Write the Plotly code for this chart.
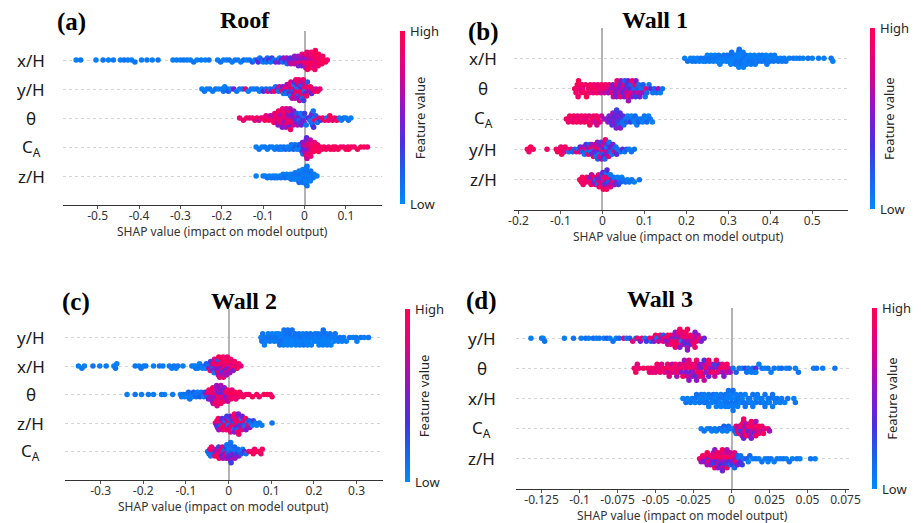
import numpy as np
import plotly.graph_objects as go

# ---------------------------------------------------------------------------
# SHAP values per feature row: (shap value, normalised feature value)
# ---------------------------------------------------------------------------

ROOF_XH = [
    (-0.552, 0.05), (-0.541, 0.08), (-0.504, 0.05), (-0.487, 0.1), (-0.474, 0.05), (-0.462, 0.08),
    (-0.445, 0.05), (-0.436, 0.1), (-0.427, 0.06), (-0.418, 0.05), (-0.41, 0.1), (-0.394, 0.05),
    (-0.381, 0.08), (-0.368, 0.05), (-0.354, 0.1), (-0.318, 0.05), (-0.309, 0.08), (-0.3, 0.05),
    (-0.292, 0.1), (-0.284, 0.06), (-0.276, 0.05), (-0.268, 0.1), (-0.26, 0.05), (-0.25, 0.08),
    (-0.24, 0.05), (-0.231, 0.1), (-0.21, 0.05), (-0.203, 0.1), (-0.196, 0.06), (-0.189, 0.05),
    (-0.182, 0.12), (-0.175, 0.05), (-0.168, 0.1), (-0.161, 0.08), (-0.154, 0.05), (-0.147, 0.15),
    (-0.14, 0.05), (-0.133, 0.1), (-0.126, 0.2), (-0.12, 0.05), (-0.114, 0.3), (-0.112, 0.4),
    (-0.108, 0.1), (-0.104, 0.2), (-0.1, 0.05), (-0.095, 0.3), (-0.092, 0.1), (-0.09, 0.15),
    (-0.086, 0.35), (-0.082, 0.1), (-0.079, 0.3),
    (-0.074, 0.1), (-0.07, 0.45),
    (-0.066, 0.2), (-0.062, 0.5), (-0.06, 0.1),
    (-0.056, 0.4), (-0.053, 0.15), (-0.051, 0.55),
    (-0.047, 0.5), (-0.045, 0.3), (-0.043, 0.6), (-0.042, 0.15),
    (-0.038, 0.45), (-0.036, 0.55), (-0.034, 0.35), (-0.033, 0.7),
    (-0.029, 0.5), (-0.028, 0.6), (-0.026, 0.4), (-0.025, 0.75), (-0.024, 0.55),
    (-0.02, 0.55), (-0.019, 0.7), (-0.018, 0.45), (-0.017, 0.8), (-0.016, 0.6), (-0.015, 0.5),
    (-0.011, 0.6), (-0.01, 0.75), (-0.009, 0.5), (-0.008, 0.85), (-0.007, 0.65), (-0.007, 0.45), (-0.006, 0.8),
    (-0.002, 0.7), (-0.001, 0.85), (0.0, 0.6), (0.001, 0.9), (0.001, 0.5), (0.002, 0.8), (0.003, 0.95), (0.003, 0.65),
    (0.006, 0.85), (0.007, 0.95), (0.008, 0.7), (0.009, 0.9), (0.009, 0.6), (0.01, 0.95), (0.011, 0.8), (0.011, 0.9), (0.012, 0.75),
    (0.015, 0.95), (0.016, 0.85), (0.017, 0.9), (0.018, 1.0), (0.018, 0.7), (0.019, 0.95), (0.02, 0.85), (0.02, 0.9), (0.021, 0.95), (0.022, 0.8),
    (0.024, 0.95), (0.025, 0.9), (0.026, 1.0), (0.027, 0.85), (0.028, 0.95), (0.029, 0.9), (0.03, 0.8), (0.031, 0.95),
    (0.033, 0.9), (0.034, 1.0), (0.036, 0.85), (0.037, 0.95), (0.039, 0.9),
    (0.042, 0.95), (0.044, 0.9), (0.047, 1.0),
    (0.051, 0.95), (0.055, 0.9),
]

ROOF_YH = [
    (-0.248, 0.05), (-0.242, 0.1), (-0.236, 0.05), (-0.229, 0.08), (-0.222, 0.05), (-0.215, 0.1),
    (-0.208, 0.05), (-0.2, 0.08), (-0.196, 0.1), (-0.193, 0.05), (-0.186, 0.1), (-0.184, 0.2),
    (-0.178, 0.05), (-0.171, 0.5), (-0.164, 0.08), (-0.157, 0.05), (-0.15, 0.1), (-0.143, 0.85),
    (-0.136, 0.05), (-0.129, 0.1), (-0.122, 0.05), (-0.115, 0.12), (-0.109, 0.05),
    (-0.103, 0.1), (-0.099, 0.4), (-0.093, 0.15), (-0.089, 0.8), (-0.084, 0.1), (-0.08, 0.5),
    (-0.076, 0.2), (-0.073, 0.9), (-0.07, 0.1),
    (-0.066, 0.6), (-0.063, 0.1), (-0.061, 0.85),
    (-0.057, 0.2), (-0.055, 0.9), (-0.053, 0.5), (-0.051, 0.1),
    (-0.048, 0.8), (-0.047, 0.3), (-0.045, 0.9), (-0.044, 0.1), (-0.042, 0.6),
    (-0.039, 0.95), (-0.038, 0.2), (-0.037, 0.7), (-0.036, 0.5), (-0.035, 0.9), (-0.034, 0.1), (-0.033, 0.8),
    (-0.03, 0.6), (-0.029, 0.9), (-0.028, 0.2), (-0.027, 0.95), (-0.026, 0.5), (-0.026, 0.1), (-0.025, 0.85), (-0.024, 0.4), (-0.023, 0.7),
    (-0.021, 0.9), (-0.02, 0.3), (-0.02, 0.8), (-0.019, 0.1), (-0.018, 0.95), (-0.017, 0.6), (-0.016, 0.2), (-0.016, 0.85), (-0.015, 0.5), (-0.014, 0.9),
    (-0.012, 0.7), (-0.011, 0.1), (-0.01, 0.95), (-0.009, 0.4), (-0.008, 0.85), (-0.008, 0.2), (-0.007, 0.9), (-0.006, 0.6), (-0.005, 0.15),
    (-0.003, 0.9), (-0.002, 0.3), (-0.001, 0.8), (0.0, 0.1), (0.001, 0.95), (0.002, 0.5), (0.003, 0.85),
    (0.005, 0.9), (0.007, 0.2), (0.009, 0.8), (0.011, 0.6),
    (0.014, 0.95), (0.017, 0.4), (0.02, 0.85),
    (0.024, 0.9), (0.028, 0.7),
    (0.032, 0.95), (0.037, 0.85),
]

ROOF_TH = [
    (-0.157, 0.9), (-0.148, 0.85), (-0.14, 0.95), (-0.133, 0.8), (-0.126, 0.9), (-0.12, 0.85),
    (-0.115, 0.95), (-0.11, 0.7), (-0.105, 0.9), (-0.1, 0.85), (-0.096, 0.95),
    (-0.093, 0.8), (-0.09, 0.9),
    (-0.086, 0.95), (-0.083, 0.7), (-0.08, 0.85),
    (-0.077, 0.9), (-0.076, 0.6), (-0.074, 0.95), (-0.072, 0.8), (-0.071, 0.9),
    (-0.068, 0.85), (-0.067, 0.95), (-0.066, 0.7), (-0.065, 0.9), (-0.064, 0.55), (-0.063, 0.95), (-0.062, 0.8),
    (-0.059, 0.9), (-0.058, 0.75), (-0.057, 0.95), (-0.056, 0.6), (-0.055, 0.85), (-0.054, 0.9), (-0.054, 0.5), (-0.053, 0.8),
    (-0.05, 0.95), (-0.049, 0.7), (-0.048, 0.85), (-0.048, 0.55), (-0.047, 0.9), (-0.046, 0.8), (-0.045, 0.95), (-0.045, 0.6), (-0.044, 0.75), (-0.043, 0.9),
    (-0.041, 0.85), (-0.04, 0.6), (-0.039, 0.95), (-0.038, 0.5), (-0.037, 0.8), (-0.036, 0.9), (-0.036, 0.45), (-0.035, 0.7), (-0.034, 0.95),
    (-0.032, 0.6), (-0.031, 0.85), (-0.03, 0.5), (-0.029, 0.9), (-0.028, 0.4), (-0.027, 0.75), (-0.026, 0.55),
    (-0.023, 0.5), (-0.022, 0.3), (-0.021, 0.7), (-0.019, 0.45), (-0.018, 0.2), (-0.017, 0.6),
    (-0.014, 0.4), (-0.013, 0.15), (-0.012, 0.5), (-0.01, 0.3), (-0.009, 0.1), (-0.008, 0.45),
    (-0.005, 0.2), (-0.004, 0.4), (-0.003, 0.1), (-0.001, 0.5), (0.0, 0.3),
    (0.004, 0.1), (0.008, 0.4),
    (0.013, 0.1), (0.014, 0.4), (0.015, 0.05), (0.016, 0.3), (0.017, 0.1), (0.018, 0.5), (0.019, 0.15),
    (0.021, 0.1), (0.022, 0.35), (0.024, 0.05), (0.025, 0.9), (0.027, 0.2),
    (0.031, 0.1), (0.035, 0.85),
    (0.039, 0.3), (0.044, 0.9), (0.049, 0.95), (0.054, 0.1), (0.058, 0.9), (0.061, 0.95), (0.063, 0.95),
    (0.068, 0.85), (0.073, 0.9), (0.078, 0.95), (0.084, 0.1), (0.089, 0.05), (0.095, 0.15),
    (0.1, 0.05), (0.106, 0.1), (0.112, 0.05),
]

ROOF_CA = [
    (-0.117, 0.05), (-0.11, 0.1), (-0.103, 0.05), (-0.096, 0.08), (-0.09, 0.05), (-0.084, 0.1),
    (-0.078, 0.05), (-0.072, 0.08), (-0.067, 0.05), (-0.062, 0.1),
    (-0.058, 0.1), (-0.055, 0.05),
    (-0.05, 0.1), (-0.046, 0.15),
    (-0.041, 0.05), (-0.037, 0.1),
    (-0.032, 0.1), (-0.03, 0.05), (-0.027, 0.15),
    (-0.023, 0.1), (-0.021, 0.2), (-0.018, 0.05),
    (-0.014, 0.1), (-0.012, 0.3), (-0.011, 0.05), (-0.009, 0.2),
    (-0.006, 0.3), (-0.005, 0.5), (-0.004, 0.15), (-0.003, 0.6), (-0.002, 0.4), (-0.001, 0.7), (0.0, 0.5),
    (0.002, 0.6), (0.003, 0.75), (0.004, 0.5), (0.005, 0.85), (0.005, 0.4), (0.006, 0.7), (0.007, 0.9), (0.008, 0.55), (0.009, 0.8), (0.01, 0.65),
    (0.011, 0.85), (0.012, 0.95), (0.014, 0.7), (0.015, 0.9), (0.016, 0.8), (0.018, 0.95),
    (0.02, 0.9), (0.022, 0.95), (0.024, 0.85), (0.026, 1.0),
    (0.029, 0.95), (0.031, 0.9), (0.034, 1.0),
    (0.038, 0.95), (0.042, 0.9),
    (0.047, 0.95), (0.052, 1.0), (0.058, 0.9), (0.063, 0.95), (0.069, 1.0), (0.071, 0.95),
    (0.075, 0.9), (0.081, 1.0), (0.087, 0.95), (0.094, 0.9), (0.1, 1.0), (0.105, 0.9),
    (0.107, 0.95), (0.113, 1.0), (0.12, 0.9), (0.128, 0.95), (0.136, 1.0), (0.144, 0.95), (0.152, 0.9),
]

ROOF_ZH = [
    (-0.117, 0.05), (-0.1, 0.08), (-0.095, 0.05), (-0.09, 0.1), (-0.085, 0.05), (-0.08, 0.08),
    (-0.076, 0.05), (-0.072, 0.1),
    (-0.069, 0.05), (-0.066, 0.08),
    (-0.06, 0.05), (-0.057, 0.1),
    (-0.052, 0.05), (-0.05, 0.08), (-0.047, 0.12),
    (-0.043, 0.05), (-0.041, 0.1), (-0.038, 0.06),
    (-0.034, 0.05), (-0.032, 0.1), (-0.03, 0.08), (-0.028, 0.05),
    (-0.025, 0.1), (-0.024, 0.05), (-0.023, 0.08), (-0.022, 0.12), (-0.021, 0.05), (-0.02, 0.1),
    (-0.016, 0.05), (-0.015, 0.1), (-0.014, 0.06), (-0.013, 0.05), (-0.013, 0.12), (-0.012, 0.08), (-0.011, 0.05), (-0.01, 0.1),
    (-0.007, 0.05), (-0.006, 0.1), (-0.006, 0.08), (-0.005, 0.05), (-0.004, 0.12), (-0.004, 0.05), (-0.003, 0.1), (-0.002, 0.06), (-0.002, 0.05), (-0.001, 0.1),
    (0.001, 0.05), (0.002, 0.08), (0.002, 0.1), (0.003, 0.05), (0.004, 0.12), (0.004, 0.06), (0.005, 0.05), (0.006, 0.1), (0.006, 0.08), (0.007, 0.05),
    (0.01, 0.1), (0.011, 0.05), (0.012, 0.08), (0.013, 0.12), (0.014, 0.05), (0.015, 0.1),
    (0.019, 0.05), (0.021, 0.1), (0.023, 0.08),
    (0.03, 0.05),
]

W1_XH = [
    (0.196, 0.05), (0.203, 0.1), (0.21, 0.05),
    (0.214, 0.08), (0.217, 0.05), (0.222, 0.1), (0.226, 0.05), (0.231, 0.05), (0.235, 0.12),
    (0.24, 0.05), (0.243, 0.1), (0.246, 0.06), (0.25, 0.05), (0.253, 0.1), (0.255, 0.08),
    (0.259, 0.05), (0.262, 0.1), (0.264, 0.06), (0.268, 0.05), (0.271, 0.12), (0.273, 0.05),
    (0.277, 0.1), (0.28, 0.05), (0.282, 0.08), (0.286, 0.05), (0.289, 0.1), (0.291, 0.06),
    (0.295, 0.05), (0.297, 0.1), (0.299, 0.08), (0.301, 0.05),
    (0.304, 0.1), (0.306, 0.05), (0.308, 0.12), (0.31, 0.06),
    (0.313, 0.05), (0.315, 0.1), (0.317, 0.08), (0.318, 0.05), (0.32, 0.1),
    (0.322, 0.05), (0.323, 0.1), (0.324, 0.06), (0.325, 0.05), (0.326, 0.12), (0.327, 0.05), (0.329, 0.1),
    (0.331, 0.05), (0.333, 0.1), (0.335, 0.08), (0.336, 0.05), (0.338, 0.1),
    (0.34, 0.05), (0.342, 0.1), (0.344, 0.06), (0.346, 0.05),
    (0.35, 0.1), (0.352, 0.05), (0.354, 0.08), (0.356, 0.05),
    (0.359, 0.1), (0.362, 0.05), (0.364, 0.08), (0.368, 0.05), (0.371, 0.1), (0.373, 0.06),
    (0.377, 0.05), (0.379, 0.1), (0.381, 0.08), (0.383, 0.05),
    (0.387, 0.1), (0.39, 0.05), (0.392, 0.08), (0.396, 0.05), (0.399, 0.1), (0.401, 0.06),
    (0.405, 0.05), (0.408, 0.1), (0.41, 0.08), (0.415, 0.05), (0.419, 0.1),
    (0.424, 0.05), (0.428, 0.08), (0.433, 0.05), (0.437, 0.1),
    (0.445, 0.05), (0.455, 0.1), (0.462, 0.05), (0.47, 0.08), (0.478, 0.05), (0.49, 0.1),
    (0.5, 0.05), (0.515, 0.08), (0.528, 0.05), (0.545, 0.1), (0.549, 0.05),
]

W1_TH = [
    (-0.066, 0.95), (-0.063, 0.9),
    (-0.06, 0.95), (-0.058, 0.9), (-0.057, 1.0), (-0.056, 0.85),
    (-0.051, 0.9), (-0.049, 0.95), (-0.047, 0.85),
    (-0.042, 0.95), (-0.04, 0.9), (-0.038, 1.0),
    (-0.033, 0.9), (-0.031, 0.85), (-0.029, 0.95),
    (-0.024, 0.95), (-0.022, 0.8), (-0.02, 0.9),
    (-0.015, 0.9), (-0.013, 0.95), (-0.011, 0.85),
    (-0.006, 0.9), (-0.004, 0.75), (-0.002, 0.95),
    (0.003, 0.85), (0.005, 0.7), (0.007, 0.9),
    (0.012, 0.8), (0.014, 0.6), (0.016, 0.9),
    (0.021, 0.55), (0.023, 0.85), (0.025, 0.5), (0.026, 0.7),
    (0.03, 0.6), (0.031, 0.45), (0.033, 0.8), (0.034, 0.5), (0.035, 0.9),
    (0.039, 0.5), (0.04, 0.7), (0.042, 0.45), (0.043, 0.85), (0.044, 0.55),
    (0.048, 0.6), (0.049, 0.4), (0.051, 0.8), (0.052, 0.5), (0.053, 0.2),
    (0.057, 0.5), (0.058, 0.7), (0.059, 0.3), (0.06, 0.9), (0.061, 0.45), (0.062, 0.6),
    (0.066, 0.4), (0.067, 0.8), (0.069, 0.2), (0.07, 0.55), (0.071, 0.9),
    (0.075, 0.15), (0.076, 0.6), (0.078, 0.85), (0.079, 0.3), (0.08, 0.5),
    (0.084, 0.2), (0.086, 0.7), (0.087, 0.1), (0.089, 0.5),
    (0.093, 0.1), (0.095, 0.6), (0.097, 0.2),
    (0.102, 0.1), (0.104, 0.85), (0.106, 0.15),
    (0.111, 0.1), (0.115, 0.4), (0.12, 0.1), (0.124, 0.2),
    (0.129, 0.1), (0.133, 0.6), (0.138, 0.05), (0.143, 0.1),
]

W1_CA = [
    (-0.086, 0.95), (-0.081, 0.9),
    (-0.078, 0.95), (-0.075, 0.85),
    (-0.07, 0.9), (-0.068, 1.0), (-0.066, 0.85),
    (-0.061, 0.95), (-0.059, 0.8), (-0.057, 0.9),
    (-0.052, 0.9), (-0.05, 0.95), (-0.048, 0.85),
    (-0.043, 0.95), (-0.041, 0.9), (-0.039, 0.8),
    (-0.034, 0.9), (-0.032, 0.85), (-0.03, 0.95),
    (-0.025, 0.95), (-0.023, 0.8), (-0.021, 0.9),
    (-0.017, 0.85), (-0.016, 0.7), (-0.014, 0.9), (-0.013, 0.75), (-0.011, 0.95),
    (-0.006, 0.8), (-0.002, 0.7), (0.004, 0.6),
    (0.011, 0.5), (0.013, 0.6), (0.016, 0.45),
    (0.019, 0.5), (0.02, 0.4), (0.022, 0.55), (0.023, 0.35), (0.025, 0.6),
    (0.027, 0.45), (0.028, 0.5), (0.03, 0.35), (0.031, 0.55), (0.032, 0.4), (0.033, 0.5), (0.034, 0.3),
    (0.036, 0.45), (0.037, 0.3), (0.039, 0.5), (0.04, 0.2), (0.042, 0.4), (0.043, 0.55),
    (0.045, 0.3), (0.047, 0.15), (0.049, 0.4), (0.051, 0.1),
    (0.055, 0.1), (0.058, 0.2), (0.06, 0.05),
    (0.064, 0.1), (0.067, 0.3), (0.069, 0.05),
    (0.073, 0.1), (0.076, 0.05), (0.078, 0.15),
    (0.082, 0.05), (0.085, 0.1), (0.087, 0.2),
    (0.092, 0.1), (0.096, 0.05),
    (0.1, 0.1), (0.103, 0.05), (0.106, 0.15),
    (0.11, 0.05), (0.114, 0.1), (0.119, 0.05),
]

W1_YH = [
    (-0.179, 0.95), (-0.175, 0.9), (-0.171, 1.0), (-0.165, 0.95), (-0.132, 0.9),
    (-0.11, 0.95), (-0.107, 0.9),
    (-0.102, 0.85), (-0.1, 1.0), (-0.099, 0.9), (-0.097, 0.95),
    (-0.093, 0.9), (-0.091, 0.8), (-0.089, 0.95),
    (-0.084, 0.85), (-0.08, 0.1),
    (-0.075, 0.9), (-0.071, 0.15),
    (-0.066, 0.2), (-0.062, 0.85),
    (-0.057, 0.1), (-0.055, 0.8), (-0.053, 0.4),
    (-0.048, 0.9), (-0.047, 0.2), (-0.045, 0.6), (-0.043, 0.1),
    (-0.039, 0.3), (-0.038, 0.85), (-0.036, 0.1), (-0.035, 0.5), (-0.034, 0.9),
    (-0.03, 0.2), (-0.029, 0.7), (-0.028, 0.1), (-0.027, 0.9), (-0.026, 0.4), (-0.025, 0.6),
    (-0.021, 0.85), (-0.02, 0.15), (-0.019, 0.5), (-0.018, 0.9), (-0.017, 0.3), (-0.016, 0.7), (-0.015, 0.1),
    (-0.012, 0.6), (-0.011, 0.2), (-0.01, 0.9), (-0.009, 0.4), (-0.008, 0.8), (-0.008, 0.1), (-0.007, 0.55), (-0.006, 0.85),
    (-0.003, 0.3), (-0.002, 0.7), (-0.001, 0.1), (0.0, 0.9), (0.001, 0.5), (0.001, 0.2), (0.002, 0.8), (0.003, 0.4),
    (0.005, 0.6), (0.006, 0.15), (0.007, 0.9), (0.008, 0.35), (0.009, 0.7), (0.01, 0.1), (0.011, 0.5),
    (0.014, 0.3), (0.015, 0.8), (0.016, 0.1), (0.018, 0.6), (0.019, 0.2), (0.02, 0.45),
    (0.023, 0.1), (0.025, 0.5), (0.027, 0.2), (0.029, 0.7),
    (0.032, 0.15), (0.034, 0.4), (0.036, 0.1),
    (0.044, 0.1), (0.048, 0.4), (0.053, 0.1), (0.058, 0.2), (0.064, 0.05), (0.069, 0.1), (0.076, 0.1),
]

W1_ZH = [
    (-0.054, 0.95), (-0.05, 0.9),
    (-0.048, 0.95), (-0.046, 0.85), (-0.044, 1.0),
    (-0.039, 0.9), (-0.037, 0.95), (-0.035, 0.8),
    (-0.03, 0.9), (-0.029, 0.5), (-0.027, 0.95), (-0.026, 0.7),
    (-0.021, 0.85), (-0.02, 0.4), (-0.019, 0.95), (-0.017, 0.6), (-0.016, 0.2),
    (-0.012, 0.9), (-0.011, 0.5), (-0.01, 0.1), (-0.009, 0.8), (-0.008, 0.95), (-0.007, 0.3), (-0.006, 0.7),
    (-0.003, 0.6), (-0.002, 0.9), (-0.001, 0.2), (0.0, 0.85), (0.001, 0.45), (0.002, 0.95), (0.003, 0.1), (0.003, 0.7),
    (0.005, 0.9), (0.006, 0.3), (0.007, 0.8), (0.008, 0.55), (0.009, 0.1), (0.01, 0.95), (0.011, 0.4),
    (0.014, 0.7), (0.015, 0.2), (0.016, 0.9), (0.018, 0.5), (0.019, 0.1), (0.02, 0.8),
    (0.023, 0.3), (0.025, 0.85), (0.027, 0.1), (0.029, 0.6),
    (0.032, 0.1), (0.034, 0.5), (0.036, 0.05), (0.038, 0.3),
    (0.041, 0.1), (0.044, 0.2), (0.046, 0.05),
    (0.05, 0.1), (0.055, 0.15), (0.06, 0.05), (0.064, 0.1),
    (0.07, 0.1), (0.076, 0.05), (0.088, 0.1),
]

W2_YH = [
    (0.076, 0.05), (0.078, 0.1), (0.08, 0.08), (0.084, 0.05), (0.086, 0.1), (0.088, 0.06),
    (0.093, 0.05), (0.095, 0.1), (0.097, 0.08), (0.102, 0.05), (0.105, 0.1), (0.107, 0.06),
    (0.111, 0.05), (0.113, 0.1), (0.115, 0.08), (0.117, 0.05),
    (0.12, 0.1), (0.122, 0.05), (0.124, 0.12), (0.126, 0.06),
    (0.129, 0.05), (0.13, 0.1), (0.132, 0.08), (0.133, 0.05), (0.135, 0.1),
    (0.138, 0.05), (0.139, 0.1), (0.141, 0.06), (0.142, 0.05), (0.144, 0.12),
    (0.147, 0.05), (0.149, 0.1), (0.151, 0.08), (0.153, 0.05),
    (0.156, 0.1), (0.158, 0.05), (0.16, 0.08), (0.162, 0.05),
    (0.165, 0.1), (0.167, 0.05), (0.169, 0.12), (0.171, 0.06),
    (0.174, 0.05), (0.176, 0.1), (0.178, 0.08), (0.18, 0.05),
    (0.183, 0.1), (0.185, 0.05), (0.187, 0.08), (0.189, 0.05),
    (0.192, 0.1), (0.194, 0.05), (0.196, 0.08),
    (0.201, 0.05), (0.203, 0.1), (0.205, 0.06), (0.207, 0.05),
    (0.21, 0.1), (0.212, 0.05), (0.214, 0.08), (0.216, 0.05),
    (0.219, 0.1), (0.221, 0.05), (0.222, 0.12), (0.224, 0.06), (0.226, 0.05),
    (0.229, 0.1), (0.231, 0.05), (0.233, 0.08), (0.235, 0.05),
    (0.238, 0.1), (0.24, 0.05), (0.242, 0.08),
    (0.247, 0.05), (0.25, 0.1), (0.252, 0.06), (0.257, 0.05), (0.261, 0.1),
    (0.266, 0.05), (0.27, 0.08), (0.276, 0.05), (0.284, 0.1), (0.292, 0.05),
    (0.299, 0.08), (0.301, 0.05), (0.31, 0.1), (0.318, 0.05), (0.328, 0.08),
]

W2_XH = [
    (-0.352, 0.05), (-0.344, 0.08), (-0.338, 0.05), (-0.318, 0.1), (-0.302, 0.05), (-0.287, 0.08),
    (-0.269, 0.05), (-0.265, 0.1), (-0.262, 0.05), (-0.219, 0.08), (-0.21, 0.05), (-0.205, 0.1),
    (-0.199, 0.05), (-0.194, 0.08), (-0.176, 0.05), (-0.162, 0.1), (-0.154, 0.05), (-0.139, 0.08),
    (-0.133, 0.05), (-0.128, 0.1), (-0.123, 0.05), (-0.119, 0.08), (-0.107, 0.05), (-0.086, 0.1),
    (-0.081, 0.05), (-0.077, 0.1), (-0.076, 0.05), (-0.072, 0.08), (-0.068, 0.05),
    (-0.065, 0.1), (-0.061, 0.05),
    (-0.056, 0.1), (-0.054, 0.05), (-0.052, 0.2),
    (-0.047, 0.1), (-0.046, 0.6), (-0.044, 0.15), (-0.043, 0.85), (-0.042, 0.3),
    (-0.039, 0.9), (-0.038, 0.2), (-0.037, 0.7), (-0.036, 0.5), (-0.035, 0.95), (-0.034, 0.1), (-0.033, 0.8),
    (-0.03, 0.85), (-0.029, 0.6), (-0.028, 0.95), (-0.027, 0.4), (-0.026, 0.75), (-0.025, 0.9), (-0.025, 0.2), (-0.024, 0.65), (-0.023, 1.0),
    (-0.021, 0.8), (-0.02, 0.95), (-0.019, 0.5), (-0.018, 0.9), (-0.017, 0.7), (-0.016, 1.0), (-0.016, 0.3), (-0.015, 0.85), (-0.014, 0.6), (-0.013, 0.95),
    (-0.012, 0.9), (-0.011, 0.55), (-0.01, 0.95), (-0.009, 0.8), (-0.008, 0.4), (-0.007, 0.9), (-0.006, 0.7), (-0.005, 1.0), (-0.005, 0.6),
    (-0.003, 0.85), (-0.002, 0.95), (-0.001, 0.5), (0.0, 0.9), (0.001, 0.75), (0.002, 1.0), (0.003, 0.6),
    (0.005, 0.9), (0.007, 0.7), (0.008, 0.95), (0.01, 0.8), (0.011, 0.5),
    (0.014, 0.9), (0.017, 0.85), (0.02, 0.95),
    (0.024, 0.9), (0.029, 0.8),
]

W2_TH = [
    (-0.238, 0.05), (-0.219, 0.1), (-0.204, 0.05), (-0.188, 0.08), (-0.176, 0.05), (-0.157, 0.1),
    (-0.15, 0.05), (-0.131, 0.08),
    (-0.113, 0.05), (-0.11, 0.1),
    (-0.106, 0.1), (-0.103, 0.05), (-0.1, 0.1),
    (-0.097, 0.05), (-0.094, 0.15), (-0.091, 0.1),
    (-0.088, 0.1), (-0.085, 0.05), (-0.082, 0.2),
    (-0.079, 0.1), (-0.076, 0.15), (-0.073, 0.05),
    (-0.07, 0.1), (-0.067, 0.2), (-0.064, 0.1),
    (-0.061, 0.15), (-0.058, 0.05), (-0.055, 0.3),
    (-0.052, 0.6), (-0.05, 0.2), (-0.049, 0.8), (-0.047, 0.5), (-0.046, 0.9),
    (-0.043, 0.75), (-0.042, 0.55), (-0.041, 0.9), (-0.04, 0.65), (-0.039, 0.85), (-0.038, 0.5), (-0.037, 0.95), (-0.036, 0.7),
    (-0.034, 0.8), (-0.033, 0.6), (-0.032, 0.9), (-0.031, 0.5), (-0.031, 0.75), (-0.03, 0.85), (-0.029, 0.65), (-0.028, 0.95), (-0.028, 0.55), (-0.027, 0.8),
    (-0.025, 0.7), (-0.024, 0.9), (-0.023, 0.45), (-0.022, 0.8), (-0.021, 0.6), (-0.02, 0.85), (-0.019, 0.5), (-0.018, 0.95), (-0.018, 0.65),
    (-0.016, 0.6), (-0.015, 0.85), (-0.014, 0.4), (-0.013, 0.75), (-0.012, 0.55), (-0.011, 0.9), (-0.01, 0.5),
    (-0.007, 0.8), (-0.006, 0.5), (-0.005, 0.9), (-0.004, 0.6), (-0.003, 0.95), (-0.002, 0.7),
    (0.002, 0.95), (0.003, 0.85), (0.005, 1.0), (0.006, 0.9), (0.008, 0.8),
    (0.011, 0.95), (0.013, 0.9), (0.015, 1.0), (0.017, 0.85),
    (0.02, 0.95), (0.023, 0.9), (0.026, 1.0),
    (0.03, 0.9), (0.034, 0.95),
    (0.041, 0.95), (0.048, 0.9), (0.056, 1.0), (0.066, 0.95), (0.072, 0.9), (0.083, 0.95),
    (0.091, 1.0), (0.098, 0.9), (0.102, 0.95),
]

W2_ZH = [
    (-0.031, 0.9), (-0.028, 0.5),
    (-0.027, 0.85), (-0.026, 0.3), (-0.024, 0.95), (-0.023, 0.6),
    (-0.019, 0.9), (-0.018, 0.2), (-0.017, 0.7), (-0.016, 0.95), (-0.015, 0.4), (-0.013, 0.85),
    (-0.01, 0.6), (-0.009, 0.95), (-0.008, 0.15), (-0.007, 0.8), (-0.006, 0.5), (-0.005, 0.9), (-0.004, 0.3),
    (-0.001, 0.85), (0.0, 0.1), (0.001, 0.95), (0.002, 0.6), (0.003, 0.2), (0.004, 0.9), (0.005, 0.45), (0.005, 0.8), (0.006, 0.15),
    (0.008, 0.9), (0.009, 0.3), (0.01, 0.95), (0.011, 0.6), (0.012, 0.1), (0.013, 0.85), (0.014, 0.5), (0.014, 0.95), (0.015, 0.2),
    (0.017, 0.8), (0.018, 0.95), (0.019, 0.4), (0.02, 0.9), (0.021, 0.15), (0.022, 0.7), (0.023, 1.0), (0.023, 0.5), (0.024, 0.85),
    (0.026, 0.9), (0.027, 0.3), (0.028, 0.95), (0.029, 0.6), (0.03, 0.1), (0.031, 0.85), (0.032, 0.45),
    (0.035, 0.9), (0.036, 0.2), (0.037, 0.8), (0.039, 0.1), (0.04, 0.95), (0.041, 0.5),
    (0.044, 0.1), (0.046, 0.85), (0.048, 0.2), (0.05, 0.6),
    (0.053, 0.1), (0.056, 0.05), (0.058, 0.3),
    (0.062, 0.1), (0.066, 0.05),
    (0.072, 0.1), (0.078, 0.05), (0.102, 0.1),
]

W2_CA = [
    (-0.049, 0.1), (-0.046, 0.15),
    (-0.044, 0.85), (-0.042, 0.1), (-0.04, 0.9),
    (-0.036, 0.9), (-0.035, 0.2), (-0.033, 0.8), (-0.032, 0.95), (-0.03, 0.5),
    (-0.027, 0.85), (-0.026, 0.6), (-0.025, 0.95), (-0.023, 0.3), (-0.022, 0.9), (-0.021, 0.7),
    (-0.018, 0.8), (-0.017, 0.95), (-0.016, 0.4), (-0.014, 0.85), (-0.013, 0.6), (-0.012, 0.2),
    (-0.009, 0.5), (-0.008, 0.15), (-0.007, 0.8), (-0.006, 0.3), (-0.005, 0.6), (-0.004, 0.1), (-0.003, 0.9),
    (-0.001, 0.2), (0.0, 0.1), (0.001, 0.5), (0.002, 0.05), (0.003, 0.4), (0.004, 0.15), (0.005, 0.6), (0.005, 0.1), (0.006, 0.3),
    (0.009, 0.2), (0.01, 0.5), (0.011, 0.1), (0.013, 0.4), (0.014, 0.15), (0.015, 0.6),
    (0.018, 0.1), (0.02, 0.3), (0.022, 0.15), (0.024, 0.5),
    (0.027, 0.1), (0.03, 0.2), (0.033, 0.05),
    (0.037, 0.4), (0.041, 0.1),
    (0.048, 0.85), (0.053, 0.9), (0.058, 0.95), (0.061, 0.9), (0.066, 0.95), (0.071, 1.0),
    (0.076, 0.9), (0.079, 0.95),
]

W3_YH = [
    (-0.132, 0.05), (-0.125, 0.1), (-0.124, 0.05), (-0.123, 0.1), (-0.11, 0.05), (-0.104, 0.1),
    (-0.099, 0.05), (-0.096, 0.1), (-0.094, 0.05), (-0.091, 0.15), (-0.089, 0.05), (-0.087, 0.1),
    (-0.084, 0.05), (-0.082, 0.2), (-0.08, 0.05), (-0.078, 0.1), (-0.076, 0.05), (-0.074, 0.15),
    (-0.071, 0.9), (-0.069, 0.1), (-0.067, 0.2),
    (-0.065, 0.85), (-0.063, 0.1),
    (-0.062, 0.9), (-0.06, 0.5),
    (-0.059, 0.95), (-0.057, 0.1),
    (-0.056, 0.3), (-0.054, 0.9),
    (-0.053, 0.15), (-0.052, 0.85), (-0.051, 0.5),
    (-0.05, 0.95), (-0.049, 0.1), (-0.048, 0.7),
    (-0.047, 0.9), (-0.046, 0.6), (-0.045, 0.95), (-0.045, 0.2),
    (-0.044, 0.85), (-0.043, 0.5), (-0.042, 0.95), (-0.042, 0.7), (-0.041, 0.9),
    (-0.041, 0.6), (-0.04, 0.95), (-0.04, 0.8), (-0.039, 0.45), (-0.039, 0.9), (-0.038, 0.7),
    (-0.038, 0.95), (-0.037, 0.55), (-0.037, 0.85), (-0.036, 0.3), (-0.036, 0.9), (-0.035, 0.65), (-0.035, 1.0),
    (-0.035, 0.8), (-0.034, 0.5), (-0.034, 0.95), (-0.033, 0.7), (-0.033, 0.1), (-0.032, 0.9), (-0.032, 0.6), (-0.032, 0.85),
    (-0.031, 0.95), (-0.031, 0.5), (-0.03, 0.8), (-0.03, 0.35), (-0.03, 0.9), (-0.029, 0.65), (-0.029, 1.0), (-0.029, 0.55),
    (-0.028, 0.85), (-0.028, 0.6), (-0.027, 0.95), (-0.027, 0.4), (-0.026, 0.9), (-0.026, 0.7), (-0.025, 0.8),
    (-0.025, 0.95), (-0.024, 0.5), (-0.024, 0.85), (-0.023, 0.65), (-0.023, 0.9),
    (-0.022, 0.6), (-0.021, 0.9), (-0.02, 0.5),
    (-0.018, 0.45),
]

W3_TH = [
    (-0.064, 0.85), (-0.063, 0.95), (-0.062, 0.8), (-0.061, 0.9), (-0.058, 0.95),
    (-0.055, 0.9), (-0.054, 0.85),
    (-0.053, 0.95), (-0.052, 0.8), (-0.051, 0.9),
    (-0.05, 0.85), (-0.049, 0.95), (-0.048, 0.8),
    (-0.047, 0.9), (-0.046, 0.75), (-0.045, 0.95),
    (-0.044, 0.85), (-0.043, 0.95), (-0.042, 0.7), (-0.042, 0.9),
    (-0.041, 0.8), (-0.04, 0.95), (-0.039, 0.85), (-0.039, 0.65),
    (-0.038, 0.9), (-0.037, 0.75), (-0.037, 0.95), (-0.036, 0.6), (-0.035, 0.85),
    (-0.035, 0.95), (-0.034, 0.7), (-0.033, 0.9), (-0.033, 0.5), (-0.032, 0.8),
    (-0.032, 0.95), (-0.031, 0.6), (-0.03, 0.85), (-0.03, 0.5), (-0.029, 0.9), (-0.029, 0.7),
    (-0.028, 0.8), (-0.028, 0.55), (-0.027, 0.95), (-0.027, 0.45), (-0.026, 0.85), (-0.026, 0.65), (-0.025, 0.9),
    (-0.025, 0.6), (-0.024, 0.85), (-0.024, 0.4), (-0.023, 0.9), (-0.023, 0.55), (-0.022, 0.75), (-0.022, 0.95), (-0.021, 0.5),
    (-0.021, 0.8), (-0.02, 0.45), (-0.02, 0.9), (-0.019, 0.6), (-0.019, 0.85), (-0.018, 0.35), (-0.018, 0.7), (-0.017, 0.95),
    (-0.017, 0.55), (-0.016, 0.8), (-0.015, 0.4), (-0.015, 0.9), (-0.014, 0.6), (-0.014, 0.75),
    (-0.013, 0.85), (-0.012, 0.5), (-0.012, 0.95), (-0.011, 0.3), (-0.011, 0.7),
    (-0.01, 0.9), (-0.009, 0.55), (-0.009, 0.8), (-0.008, 0.4),
    (-0.007, 0.95), (-0.006, 0.6), (-0.006, 0.85), (-0.005, 0.5),
    (-0.004, 0.9), (-0.003, 0.7), (-0.003, 0.95),
    (-0.002, 0.8), (-0.001, 0.6),
    (0.001, 0.1), (0.003, 0.2), (0.005, 0.1), (0.007, 0.05), (0.009, 0.3), (0.01, 0.1),
    (0.011, 0.1), (0.013, 0.05), (0.014, 0.15), (0.015, 0.1), (0.016, 0.4), (0.016, 0.05),
    (0.018, 0.05), (0.02, 0.1), (0.022, 0.05), (0.024, 0.1), (0.026, 0.05), (0.028, 0.1),
    (0.031, 0.05), (0.033, 0.15), (0.036, 0.05), (0.038, 0.1), (0.042, 0.05), (0.044, 0.1),
    (0.054, 0.05), (0.056, 0.1), (0.06, 0.05), (0.068, 0.1),
]

W3_XH = [
    (-0.032, 0.05), (-0.03, 0.1), (-0.029, 0.05), (-0.027, 0.08), (-0.026, 0.05),
    (-0.024, 0.1), (-0.024, 0.05), (-0.023, 0.12),
    (-0.021, 0.05), (-0.021, 0.1), (-0.02, 0.08),
    (-0.019, 0.05), (-0.018, 0.1), (-0.018, 0.06),
    (-0.016, 0.05), (-0.016, 0.1), (-0.015, 0.08), (-0.015, 0.05),
    (-0.013, 0.1), (-0.013, 0.05), (-0.012, 0.12),
    (-0.011, 0.05), (-0.01, 0.1), (-0.01, 0.06), (-0.01, 0.05),
    (-0.008, 0.1), (-0.008, 0.05), (-0.007, 0.08), (-0.007, 0.05),
    (-0.005, 0.1), (-0.005, 0.05), (-0.004, 0.12), (-0.004, 0.06),
    (-0.003, 0.05), (-0.003, 0.1), (-0.002, 0.08), (-0.002, 0.05), (-0.002, 0.1),
    (0.0, 0.05), (0.0, 0.1), (0.0, 0.06), (0.001, 0.05), (0.001, 0.12), (0.001, 0.08),
    (0.003, 0.05), (0.003, 0.1), (0.003, 0.06), (0.004, 0.05),
    (0.005, 0.1), (0.006, 0.05), (0.006, 0.08), (0.007, 0.05),
    (0.008, 0.1), (0.009, 0.05), (0.009, 0.12),
    (0.011, 0.05), (0.011, 0.1), (0.012, 0.08),
    (0.013, 0.05), (0.014, 0.1), (0.014, 0.06),
    (0.016, 0.05), (0.016, 0.1), (0.017, 0.08),
    (0.019, 0.05), (0.019, 0.1), (0.02, 0.06),
    (0.021, 0.05), (0.022, 0.1), (0.022, 0.08),
    (0.024, 0.05), (0.024, 0.1), (0.025, 0.12), (0.025, 0.05),
    (0.027, 0.1), (0.027, 0.05), (0.028, 0.08),
    (0.029, 0.05), (0.03, 0.1), (0.032, 0.05), (0.033, 0.08),
    (0.035, 0.05), (0.037, 0.1), (0.041, 0.05), (0.042, 0.08),
]

W3_CA = [
    (-0.02, 0.05), (-0.018, 0.1), (-0.016, 0.05), (-0.014, 0.1),
    (-0.013, 0.05), (-0.011, 0.1),
    (-0.01, 0.05), (-0.008, 0.15),
    (-0.007, 0.1), (-0.006, 0.05), (-0.005, 0.2),
    (-0.004, 0.1), (-0.003, 0.05), (-0.002, 0.15),
    (-0.001, 0.1), (0.001, 0.05),
    (0.002, 0.2), (0.003, 0.85), (0.003, 0.1), (0.004, 0.6),
    (0.004, 0.9), (0.005, 0.5), (0.005, 0.95), (0.006, 0.7), (0.006, 0.3), (0.006, 0.85), (0.007, 0.55),
    (0.007, 0.95), (0.007, 0.6), (0.008, 0.8), (0.008, 0.45), (0.008, 0.9), (0.009, 0.7), (0.009, 1.0), (0.009, 0.5), (0.01, 0.85),
    (0.01, 0.6), (0.01, 0.95), (0.011, 0.75), (0.011, 0.4), (0.011, 0.9), (0.012, 0.55), (0.012, 0.85), (0.012, 0.65),
    (0.013, 0.95), (0.013, 0.5), (0.014, 0.8), (0.014, 0.7), (0.014, 0.9), (0.015, 0.45), (0.015, 0.85),
    (0.016, 0.95), (0.016, 0.6), (0.017, 0.9), (0.017, 0.75), (0.018, 1.0),
    (0.018, 0.85), (0.019, 0.95), (0.02, 0.7), (0.02, 0.9),
    (0.021, 0.95), (0.022, 0.8),
    (0.024, 0.9), (0.025, 0.6),
]

W3_ZH = [
    (-0.021, 0.9), (-0.02, 0.6),
    (-0.019, 0.95), (-0.018, 0.8), (-0.018, 0.5),
    (-0.017, 0.9), (-0.016, 0.6), (-0.016, 0.95), (-0.015, 0.4), (-0.015, 0.85),
    (-0.014, 0.9), (-0.014, 0.65), (-0.013, 0.95), (-0.013, 0.5), (-0.012, 0.85), (-0.012, 0.3), (-0.012, 0.75),
    (-0.011, 0.95), (-0.011, 0.55), (-0.01, 0.85), (-0.01, 0.4), (-0.01, 0.9), (-0.009, 0.7), (-0.009, 1.0), (-0.009, 0.5),
    (-0.008, 0.9), (-0.008, 0.6), (-0.007, 0.95), (-0.007, 0.35), (-0.007, 0.8), (-0.006, 0.65), (-0.006, 0.95), (-0.006, 0.45),
    (-0.005, 0.85), (-0.005, 0.55), (-0.004, 0.95), (-0.004, 0.3), (-0.004, 0.75), (-0.003, 0.9), (-0.003, 0.6),
    (-0.002, 0.95), (-0.002, 0.4), (-0.001, 0.85), (-0.001, 0.2), (-0.001, 0.7), (0.0, 0.9), (0.0, 0.5),
    (0.001, 0.95), (0.001, 0.3), (0.002, 0.8), (0.002, 0.15), (0.003, 0.6),
    (0.003, 0.9), (0.004, 0.2), (0.004, 0.5), (0.005, 0.1),
    (0.006, 0.4), (0.006, 0.1), (0.007, 0.3),
    (0.008, 0.1), (0.01, 0.2), (0.011, 0.05), (0.012, 0.15),
    (0.014, 0.05), (0.016, 0.1), (0.018, 0.05), (0.02, 0.1), (0.022, 0.05), (0.024, 0.1), (0.024, 0.05),
    (0.026, 0.1), (0.028, 0.05), (0.03, 0.1), (0.032, 0.05), (0.034, 0.1), (0.036, 0.05),
    (0.038, 0.1), (0.04, 0.05), (0.043, 0.1), (0.045, 0.05), (0.052, 0.1), (0.055, 0.05),
]

# Feature rows of each panel, listed from top to bottom
ROOF_FEATURES = ["x/H", "y/H", "θ", "C<sub>A</sub>", "z/H"]
WALL1_FEATURES = ["x/H", "θ", "C<sub>A</sub>", "y/H", "z/H"]
WALL2_FEATURES = ["y/H", "x/H", "θ", "z/H", "C<sub>A</sub>"]
WALL3_FEATURES = ["y/H", "θ", "x/H", "C<sub>A</sub>", "z/H"]

ROOF_ROWS = [ROOF_XH, ROOF_YH, ROOF_TH, ROOF_CA, ROOF_ZH]
WALL1_ROWS = [W1_XH, W1_TH, W1_CA, W1_YH, W1_ZH]
WALL2_ROWS = [W2_YH, W2_XH, W2_TH, W2_ZH, W2_CA]
WALL3_ROWS = [W3_YH, W3_TH, W3_XH, W3_CA, W3_ZH]

PANEL_TAGS = ["(a)", "(b)", "(c)", "(d)"]
PANEL_TITLES = ["Roof", "Wall 1", "Wall 2", "Wall 3"]

ROOF_TICKS = [-0.5, -0.4, -0.3, -0.2, -0.1, 0, 0.1]
ROOF_TICK_TEXT = ["-0.5", "-0.4", "-0.3", "-0.2", "-0.1", "0", "0.1"]
WALL1_TICKS = [-0.2, -0.1, 0, 0.1, 0.2, 0.3, 0.4, 0.5]
WALL1_TICK_TEXT = ["-0.2", "-0.1", "0", "0.1", "0.2", "0.3", "0.4", "0.5"]
WALL2_TICKS = [-0.3, -0.2, -0.1, 0, 0.1, 0.2, 0.3]
WALL2_TICK_TEXT = ["-0.3", "-0.2", "-0.1", "0", "0.1", "0.2", "0.3"]
WALL3_TICKS = [-0.125, -0.1, -0.075, -0.05, -0.025, 0, 0.025, 0.05, 0.075]
WALL3_TICK_TEXT = ["-0.125", "-0.1", "-0.075", "-0.05", "-0.025", "0", "0.025", "0.05", "0.075"]

X_TITLE = "SHAP value (impact on model output)"

# SHAP-style blue -> purple -> red colormap
RED_BLUE = [
    [0.0, "rgb(0,138,250)"], [0.2, "rgb(30,92,236)"], [0.35, "rgb(72,48,226)"],
    [0.5, "rgb(125,28,210)"], [0.65, "rgb(180,12,172)"], [0.8, "rgb(226,2,126)"],
    [1.0, "rgb(255,0,82)"],
]

# ---------------------------------------------------------------------------
# Page geometry (pixels on a 921 x 523 page)
# ---------------------------------------------------------------------------
W, H = 921, 523
SANS = "Noto Sans"
SERIF = "Liberation Serif"
TXT = "#262626"


def fx(p):
    return p / W


def fy(p):
    return 1 - p / H


GEOM = [
    dict(xd=(58, 384), yd=(205, 31), xr=(-0.5841, 0.1884), ppu=422, cb=(402, 31, 204),
         lab_x=26, tag=(50, 22), title=(244, 20), xtitle=(221, 231),
         ticks=ROOF_TICKS, ticktext=ROOF_TICK_TEXT, rows=ROOF_ROWS, feats=ROOF_FEATURES),
    dict(xd=(518, 859), yd=(210, 28), xr=(-0.2110, 0.5857), ppu=428, cb=(881, 28, 209),
         lab_x=487, tag=(469, 32), title=(662, 20), xtitle=(686, 237),
         ticks=WALL1_TICKS, ticktext=WALL1_TICK_TEXT, rows=WALL1_ROWS, feats=WALL1_FEATURES),
    dict(xd=(60, 385), yd=(480, 309), xr=(-0.3839, 0.3632), ppu=435, cb=(407, 309, 482),
         lab_x=25, tag=(55, 302), title=(243, 301), xtitle=(222, 506),
         ticks=WALL2_TICKS, ticktext=WALL2_TICK_TEXT, rows=WALL2_ROWS, feats=WALL2_FEATURES),
    dict(xd=(520, 860), yd=(489, 308), xr=(-0.14194, 0.07742), ppu=1550, cb=(883, 308, 489),
         lab_x=485, tag=(467, 301), title=(667, 299), xtitle=(690, 515),
         ticks=WALL3_TICKS, ticktext=WALL3_TICK_TEXT, rows=WALL3_ROWS, feats=WALL3_FEATURES),
]


def swarm_offsets(vals, bin_w, row_height=0.44):
    """Beeswarm layout: stack points that fall in the same x-bin, alternating up/down."""
    vals = np.asarray(vals, dtype=float)
    q = np.floor((vals - vals.min()) / bin_w).astype(int)
    order = np.argsort(q, kind="stable")
    ys = np.zeros(len(vals))
    layer, last = 0, None
    for i in order:
        if q[i] != last:
            layer, last = 0, q[i]
        ys[i] = np.ceil(layer / 2) * (-1 if layer % 2 else 1)
        layer += 1
    ys *= 0.9 * (row_height / (ys.max() + 1))
    return ys


fig = go.Figure()
layout = dict(
    width=W, height=H, margin=dict(l=0, r=0, t=0, b=0),
    paper_bgcolor="white", plot_bgcolor="white", showlegend=False,
    font=dict(family=SANS, color=TXT),
)
annotations = []

for k, g in enumerate(GEOM):
    n = k + 1
    xa, ya = ("x" if n == 1 else f"x{n}"), ("y" if n == 1 else f"y{n}")
    ca = "coloraxis" if n == 1 else f"coloraxis{n}"
    bin_w = 4.0 / g["ppu"]
    nrows = len(g["rows"])

    for pos, row in enumerate(g["rows"]):
        shap_vals = [p[0] for p in row]
        feat_vals = [p[1] for p in row]
        yrow = nrows - 1 - pos
        offs = swarm_offsets(shap_vals, bin_w)
        fig.add_trace(go.Scatter(
            x=shap_vals, y=yrow + offs, mode="markers", xaxis=xa, yaxis=ya,
            marker=dict(size=5.5, color=feat_vals, coloraxis=ca, line=dict(width=0)),
            hoverinfo="skip",
        ))
        annotations.append(dict(
            text=g["feats"][pos], x=fx(g["lab_x"]), xref="paper", y=yrow, yref=ya,
            xanchor="center", yanchor="middle", showarrow=False,
            font=dict(family=SANS, size=17, color="#1a1a1a"),
        ))

    layout["xaxis" if n == 1 else f"xaxis{n}"] = dict(
        domain=[fx(g["xd"][0]), fx(g["xd"][1])], range=list(g["xr"]), anchor=ya,
        tickvals=g["ticks"], ticktext=g["ticktext"], showgrid=False,
        showline=True, linecolor="#333333", linewidth=1,
        ticks="outside", ticklen=3, tickcolor="#555555", tickwidth=1,
        ticklabelstandoff=-3,
        tickfont=dict(family=SANS, size=12, color="#333333"),
        zeroline=True, zerolinecolor="#b3b3b3", zerolinewidth=1.6, fixedrange=True,
    )
    layout["yaxis" if n == 1 else f"yaxis{n}"] = dict(
        domain=[fy(g["yd"][0]), fy(g["yd"][1])], range=[-1, nrows], anchor=xa,
        tickvals=list(range(nrows)), showticklabels=False, ticks="",
        showgrid=True, gridcolor="#d4d4d4", griddash="dot", gridwidth=1,
        zeroline=False, showline=False, fixedrange=True,
    )

    cbx, cbt, cbb = g["cb"]
    layout[ca] = dict(
        colorscale=RED_BLUE, cmin=0, cmax=1,
        colorbar=dict(
            x=fx(cbx), xanchor="left", xref="paper", xpad=0,
            y=fy((cbt + cbb) / 2), yanchor="middle", yref="paper", ypad=0,
            len=cbb - cbt, lenmode="pixels", thickness=5, thicknessmode="pixels",
            outlinewidth=0, showticklabels=False, ticks="",
        ),
    )

    # Colour bar labels, panel tag and title, x-axis title
    annotations += [
        dict(text="High", x=fx(cbx + 8), y=fy(cbt), xanchor="left", yanchor="middle",
             font=dict(family=SANS, size=13, color=TXT)),
        dict(text="Low", x=fx(cbx + 8), y=fy(cbb), xanchor="left", yanchor="middle",
             font=dict(family=SANS, size=13, color=TXT)),
        dict(text="Feature value", x=fx(cbx + 20), y=fy((cbt + cbb) / 2), textangle=-90,
             xanchor="center", yanchor="middle", font=dict(family=SANS, size=13, color=TXT)),
        dict(text=f"<b>{PANEL_TAGS[k]}</b>", x=fx(g["tag"][0]), y=fy(g["tag"][1]),
             xanchor="left", yanchor="middle", font=dict(family=SERIF, size=25, color="black")),
        dict(text=f"<b>{PANEL_TITLES[k]}</b>", x=fx(g["title"][0]), y=fy(g["title"][1]),
             xanchor="center", yanchor="middle", font=dict(family=SERIF, size=24, color="black")),
        dict(text=X_TITLE, x=fx(g["xtitle"][0]), y=fy(g["xtitle"][1]),
             xanchor="center", yanchor="middle", font=dict(family=SANS, size=12, color="#333333")),
    ]

for a in annotations:
    a.setdefault("xref", "paper")
    a.setdefault("yref", "paper")
    a.setdefault("showarrow", False)

layout["annotations"] = annotations
fig.update_layout(**layout)
fig.write_html("out.html")
